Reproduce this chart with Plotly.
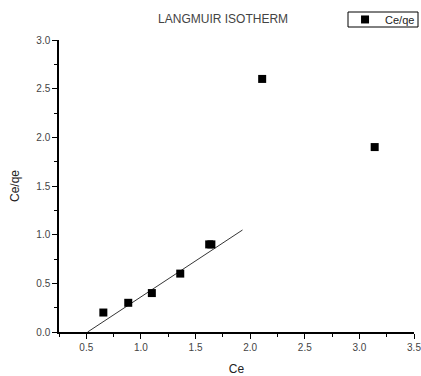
import plotly.graph_objects as go

ce = [0.656, 0.884, 1.10, 1.36, 1.625, 1.645, 2.11, 3.14]
ce_qe = [0.2, 0.3, 0.4, 0.6, 0.9, 0.9, 2.6, 1.9]
fit_x = [0.512, 1.93]
fit_y = [0.0, 1.048]

fig = go.Figure()
fig.add_trace(go.Scatter(x=fit_x, y=fit_y, mode="lines",
                         line=dict(color="black", width=0.8), showlegend=False, hoverinfo="skip"))
fig.add_trace(go.Scatter(x=ce, y=ce_qe, mode="markers", name="Ce/qe",
                         marker=dict(symbol="square", size=8, color="black")))

axis_common = dict(showline=True, linecolor="black", linewidth=1.5, showgrid=False, zeroline=False,
                   ticks="outside", ticklen=5, tickwidth=1, tickcolor="black",
                   ticklabeloverflow="allow",
                   tickfont=dict(family="Liberation Sans, Arial", size=10, color="#444"),
                   title_font=dict(family="Liberation Sans, Arial", size=12, color="#222"),
                   minor=dict(ticks="outside", ticklen=3, tickcolor="black", dtick=0.25))

fig.update_layout(
    width=421, height=376,
    margin=dict(l=59, r=7, t=40, b=44, autoexpand=False),
    paper_bgcolor="white", plot_bgcolor="white",
    title=dict(text="LANGMUIR ISOTHERM", x=0.53, xanchor="center", y=0.95, yanchor="middle",
               font=dict(family="Liberation Sans, Arial", size=12, color="#444")),
    xaxis=dict(range=[0.25, 3.5], tickvals=[0.5, 1.0, 1.5, 2.0, 2.5, 3.0, 3.5],
               ticktext=["0.5", "1.0", "1.5", "2.0", "2.5", "3.0", "3.5"],
               title=dict(text="Ce", standoff=16), **axis_common),
    yaxis=dict(range=[0, 3.0], tickvals=[0, 0.5, 1.0, 1.5, 2.0, 2.5, 3.0],
               ticktext=["0.0", "0.5", "1.0", "1.5", "2.0", "2.5", "3.0"],
               title=dict(text="Ce/qe", standoff=14), **axis_common),
    legend=dict(x=1.017, y=1.12, xanchor="right", yanchor="top", borderwidth=0,
                bgcolor="rgba(0,0,0,0)", font=dict(family="Liberation Sans, Arial", size=11, color="#222"),
                itemwidth=30, tracegroupgap=0),
    showlegend=True,
    shapes=[dict(type="rect", xref="paper", yref="paper", x0=(348 - 59) / 355, x1=(418 - 59) / 355,
                 y0=(332 - 27) / 292, y1=(332 - 12) / 292, line=dict(color="black", width=1),
                 fillcolor="rgba(0,0,0,0)", layer="above")],
)
fig.write_html("out.html")
